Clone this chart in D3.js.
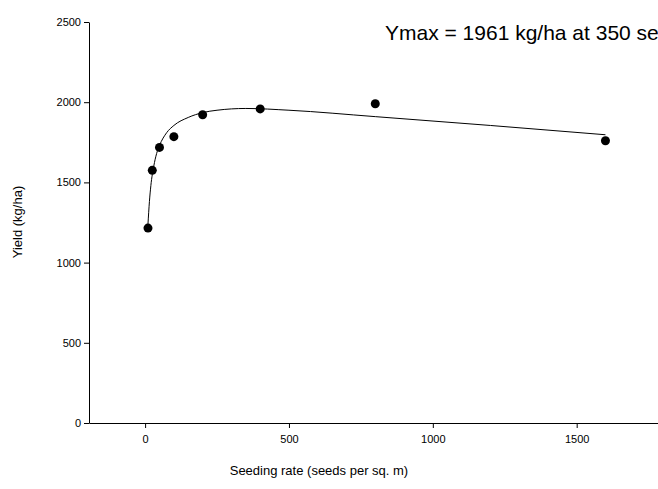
<!DOCTYPE html><html><head><script src="https://cdn.jsdelivr.net/npm/d3@7"></script>
<style>body{margin:0;overflow:hidden}text{font-family:"Liberation Sans",Arial,sans-serif}</style></head><body>
<script>
const rates=[10,25,50,100,200,400,800,1600];
const yields=[1215,1575,1718,1785,1922,1958,1990,1760];
const fitX=[10,15,20,30,40,50,75,100,150,200,250,350,500,800,1200,1600];
const fitY=[1240,1380,1480,1600,1680,1730,1810,1855,1905,1935,1950,1961,1950,1910,1855,1797];
const xTicks=[0,500,1000,1500], yTicks=[0,500,1000,1500,2000,2500];
const W=658,H=489;
const svg=d3.select("body").append("svg").attr("width",W).attr("height",H);
const x=d3.scaleLinear().domain([-195,1800]).range([89,663]);
const y=d3.scaleLinear().domain([0,2500]).range([423,22]);
svg.append("g").attr("transform","translate(0,423)").call(d3.axisBottom(x).tickValues(xTicks).tickFormat(d3.format("d")).tickSize(5).tickSizeOuter(0))
 .call(g=>g.selectAll("text").attr("font-size",11).attr("dy","1.1em"));
svg.append("g").attr("transform","translate(89,0)").call(d3.axisLeft(y).tickValues(yTicks).tickFormat(d3.format("d")).tickSize(5).tickSizeOuter(0))
 .call(g=>g.selectAll("text").attr("font-size",11));
svg.selectAll(".domain,.tick line").attr("stroke","#000");
const pts=fitX.map((d,i)=>[d,fitY[i]]);
svg.append("path").attr("d",d3.line().x(d=>x(d[0])).y(d=>y(d[1])).curve(d3.curveMonotoneX)(pts)).attr("fill","none").attr("stroke","#000").attr("stroke-width",1);
svg.selectAll("circle").data(rates).join("circle").attr("cx",d=>x(d)).attr("cy",(d,i)=>y(yields[i])).attr("r",4.5).attr("fill","#000");
svg.append("text").attr("x",385).attr("y",40).attr("font-size",21).text("Ymax = 1961 kg/ha at 350 seeds per sq. m");
svg.append("text").attr("x",x(500)+30).attr("y",475).attr("text-anchor","middle").attr("font-size",13).text("Seeding rate (seeds per sq. m)");
svg.append("text").attr("transform","translate(22,222) rotate(-90)").attr("text-anchor","middle").attr("font-size",13).text("Yield (kg/ha)");
</script></body></html>
